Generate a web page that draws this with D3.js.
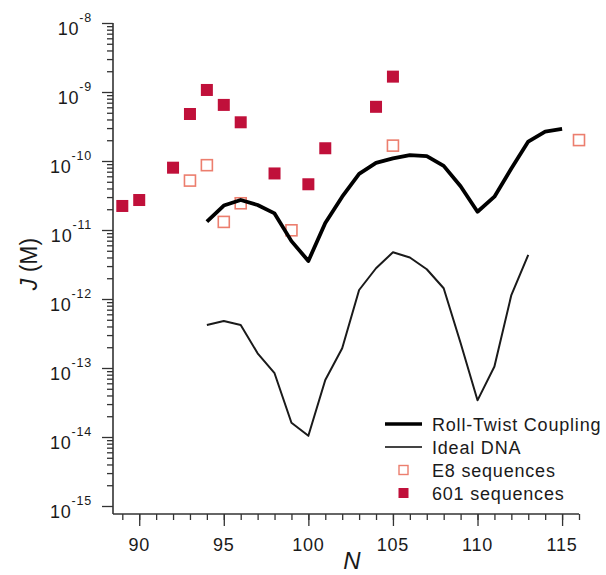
<!DOCTYPE html>
<html><head><meta charset="utf-8">
<script src="https://cdn.jsdelivr.net/npm/d3@7"></script>
<style>body{margin:0;background:#fff}svg{display:block}text{font-family:"Liberation Sans",Arial,sans-serif;fill:#1a1a1a}</style>
</head><body><svg id="c" width="606" height="575"></svg>
<script>
// ---- data ----
const rtN = [94,95,96,97,98,99,100,101,102,103,104,105,106,107,108,109,110,111,112,113,114,115];
const rtJ = [1.32e-11,2.26e-11,2.72e-11,2.30e-11,1.74e-11,6.9e-12,3.56e-12,1.26e-11,3.04e-11,6.5e-11,9.4e-11,1.09e-10,1.22e-10,1.18e-10,8.5e-11,4.3e-11,1.84e-11,3.04e-11,7.8e-11,1.91e-10,2.66e-10,2.91e-10];
const idealN = [94,95,96,97,98,99,100,101,102,103,104,105,106,107,108,109,110,111,112,113];
const idealJ = [4.2e-13,4.8e-13,4.2e-13,1.63e-13,8.4e-14,1.61e-14,1.04e-14,6.7e-14,1.93e-13,1.35e-12,2.79e-12,4.75e-12,4.0e-12,2.7e-12,1.43e-12,2.3e-13,3.4e-14,1.05e-13,1.14e-12,4.35e-12];
const e8N = [93,94,95,96,99,105,116];
const e8J = [5.2e-11,8.7e-11,1.31e-11,2.44e-11,9.9e-12,1.67e-10,2.01e-10];
const s601N = [89,90,92,93,94,95,96,98,100,101,104,105];
const s601J = [2.23e-11,2.72e-11,8.0e-11,4.8e-10,1.07e-9,6.5e-10,3.64e-10,6.6e-11,4.6e-11,1.53e-10,6.1e-10,1.67e-9];
const xMajor = [90,95,100,105,110,115];
const xMinor = d3.range(89,117);
const yExps = [-8,-9,-10,-11,-12,-13,-14,-15];
const legendItems = ["Roll-Twist Coupling","Ideal DNA","E8 sequences","601 sequences"];

// ---- layout ----
const svg = d3.select("#c");
const x = d3.scaleLinear().domain([88.45,116.0]).range([113,579]);
const y = d3.scaleLog().domain([1e-15,1e-8]).range([506,23]);
const axisY0 = 514;
const axisColor = "#333";

const yMinor = [];
yExps.slice(0,-1).forEach(e => { for (let k=2;k<=9;k++) yMinor.push(k*Math.pow(10,e-1)); });
const yMajor = yExps.map(e => Math.pow(10,e));

// y axis
const gy = svg.append("g").attr("transform","translate(113,0)");
gy.call(d3.axisLeft(y).tickValues(yMinor).tickSize(6).tickFormat(""));
gy.call(g => g.select(".domain").remove());
const gy2 = svg.append("g").attr("transform","translate(113,0)");
gy2.call(d3.axisLeft(y).tickValues(yMajor).tickSize(11).tickFormat(""));
gy2.call(g => g.select(".domain").remove());
svg.selectAll("g.tick line").attr("stroke",axisColor).attr("stroke-width",1.3);

// x axis
const gx = svg.append("g").attr("transform",`translate(0,${axisY0})`);
gx.call(d3.axisBottom(x).tickValues(xMinor).tickSize(6).tickFormat(""));
gx.call(g => g.select(".domain").remove());
const gx2 = svg.append("g").attr("transform",`translate(0,${axisY0})`);
gx2.call(d3.axisBottom(x).tickValues(xMajor).tickSize(12).tickFormat(""));
gx2.call(g => g.select(".domain").remove());
svg.selectAll("g.tick line").attr("stroke",axisColor).attr("stroke-width",1.3);

// axis lines
svg.append("line").attr("x1",113).attr("x2",113).attr("y1",y(1e-8)).attr("y2",axisY0)
  .attr("stroke",axisColor).attr("stroke-width",1.6);
svg.append("line").attr("x1",113).attr("x2",x.range()[1]).attr("y1",axisY0).attr("y2",axisY0)
  .attr("stroke",axisColor).attr("stroke-width",1.6);

// x labels
svg.append("g").selectAll("text").data(xMajor).join("text")
  .attr("x",d=>x(d)).attr("y",551).attr("text-anchor","middle")
  .attr("font-size",18).attr("letter-spacing","0.8px").text(d=>d);

// y labels
const yl = svg.append("g").selectAll("text").data(yExps).join("text")
  .attr("x",92).attr("y",e=>y(Math.pow(10,e))+12).attr("text-anchor","end")
  .attr("font-size",18).attr("letter-spacing","0.8px");
yl.append("tspan").text("10");
yl.append("tspan").attr("font-size",12.5).attr("dy",-13.5).text(e=>"-"+Math.abs(e));

// axis titles
svg.append("text").attr("x",352).attr("y",569).attr("text-anchor","middle")
  .attr("font-size",24).attr("font-style","italic").text("N");
const yt = svg.append("text").attr("transform","translate(37,264) rotate(-90)")
  .attr("text-anchor","middle").attr("font-size",23);
yt.append("tspan").attr("font-style","italic").text("J");
yt.append("tspan").text(" (M)");

// markers
const fillCol = "#C0103A", openCol = "#EC7E6E";
svg.append("g").selectAll("rect").data(e8N.map((n,i)=>({n,j:e8J[i]}))).join("rect")
  .attr("x",d=>x(d.n)-5.5).attr("y",d=>y(d.j)-5.5).attr("width",11).attr("height",11)
  .attr("fill","none").attr("stroke",openCol).attr("stroke-width",1.6);
svg.append("g").selectAll("rect").data(s601N.map((n,i)=>({n,j:s601J[i]}))).join("rect")
  .attr("x",d=>x(d.n)-6).attr("y",d=>y(d.j)-6).attr("width",12).attr("height",12)
  .attr("fill",fillCol);

// lines
const line = d3.line().x(d=>x(d.n)).y(d=>y(d.j));
svg.append("path").datum(idealN.map((n,i)=>({n,j:idealJ[i]})))
  .attr("d",line).attr("fill","none").attr("stroke","#1a1a1a").attr("stroke-width",2)
  .attr("stroke-linejoin","round");
svg.append("path").datum(rtN.map((n,i)=>({n,j:rtJ[i]})))
  .attr("d",line).attr("fill","none").attr("stroke","#000").attr("stroke-width",3.8)
  .attr("stroke-linejoin","round").attr("stroke-linecap","butt");

// legend
const ly = [424,447,470,493];
const lg = svg.append("g");
lg.append("line").attr("x1",385).attr("x2",422).attr("y1",ly[0]).attr("y2",ly[0]).attr("stroke","#000").attr("stroke-width",3.5);
lg.append("line").attr("x1",385).attr("x2",422).attr("y1",ly[1]).attr("y2",ly[1]).attr("stroke","#444").attr("stroke-width",2);
lg.append("rect").attr("x",399).attr("y",ly[2]-4.5).attr("width",9).attr("height",9).attr("fill","none").attr("stroke",openCol).attr("stroke-width",1.4);
lg.append("rect").attr("x",398.5).attr("y",ly[3]-5).attr("width",10).attr("height",10).attr("fill",fillCol);
lg.selectAll("text").data(legendItems).join("text")
  .attr("x",432).attr("y",(d,i)=>ly[i]+6.5).attr("font-size",18).attr("letter-spacing","0.8px").text(d=>d);
</script></body></html>
